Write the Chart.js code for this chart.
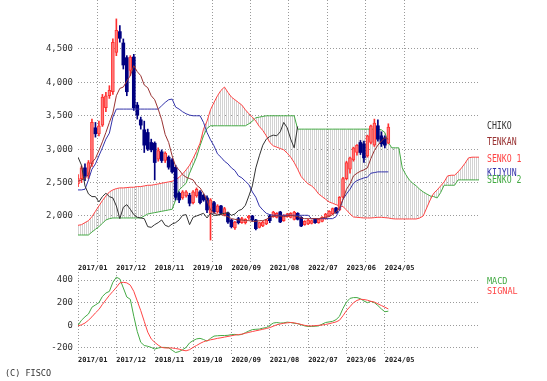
<!DOCTYPE html>
<html><head><meta charset="utf-8">
<script src="https://cdn.jsdelivr.net/npm/chart.js@4.4.1/dist/chart.umd.min.js"></script>
<style>
html,body{margin:0;padding:0;background:#fff;}
#wrap{position:relative;width:547px;height:381px;overflow:hidden;background:#fff;}
#c1{position:absolute;left:0;top:0;}
#c2{position:absolute;left:0;top:270px;}
.lbl{position:absolute;font-family:'DejaVu Sans Mono',monospace;white-space:nowrap;transform-origin:0 0;}
.big{font-size:10px;line-height:10px;transform:scaleX(0.82);}
.small{font-size:8.5px;line-height:8.5px;}
</style></head>
<body><div id="wrap">
<canvas id="c1" width="547" height="280"></canvas>
<canvas id="c2" width="547" height="100"></canvas>
<div class="lbl big" style="left:487px;top:120.7px;color:#333">CHIKO</div>
<div class="lbl big" style="left:487px;top:136.9px;color:#993333">TENKAN</div>
<div class="lbl big" style="left:487px;top:153.7px;color:#ff4444">SENKO 1</div>
<div class="lbl big" style="left:487px;top:168.2px;color:#3333aa">KIJYUN</div>
<div class="lbl big" style="left:487px;top:175.2px;color:#44aa44">SENKO 2</div>
<div class="lbl small" style="left:487px;top:276.9px;color:#44aa44">MACD</div>
<div class="lbl small" style="left:487px;top:286.9px;color:#ff4444">SIGNAL</div>
<div class="lbl small" style="left:5px;top:368.9px;color:#333">(C) FISCO</div>
</div>
<script>
// ---- data (monthly, index 0 = 2017/01) ----
const xTickPos = [0,11,22,33,44,55,66,77,88];
const xTickLabels = ['2017/01','2017/12','2018/11','2019/10','2020/09','2021/08','2022/07','2023/06','2024/05'];
const priceTicks = [2000,2500,3000,3500,4000,4500];
const macdTicks = [-200,0,200,400];
const X_MAX = 115;

const open = [2480,2560,2720,2600,2780,3320,3230,3360,3620,3800,
 3860,4450,4760,4590,4370,4180,4380,3660,3440,3290,
 3250,3100,3090,2850,2960,2830,2880,2840,2730,2340,
 2270,2300,2310,2200,2300,2360,2310,2270,2040,2200,
 2060,2150,2020,2045,1940,1820,1960,1900,1900,1970,
 2000,1940,1830,1850,1880,2000,1990,1980,2060,1930,
 1990,1980,1950,2040,1980,1870,1880,1890,1950,1900,
 1920,1960,2000,2030,2120,2090,2280,2560,2700,2840,
 2950,3100,3080,2900,3100,3060,3350,3200,3170,3090];
const high = [2620,2750,2780,2830,3450,3400,3420,3820,3850,3950,
 4650,4950,4850,4650,4400,4400,4420,3700,3480,3420,
 3300,3150,3110,3020,2990,2960,2900,2860,2760,2360,
 2380,2380,2340,2380,2420,2380,2330,2300,2260,2220,
 2170,2160,2130,2060,1950,1920,1980,1980,1960,2010,
 2010,1950,1910,1920,1950,2020,2070,2050,2070,2020,
 2040,2050,2070,2050,1990,1930,1950,1940,1960,1960,
 1990,2040,2080,2120,2130,2290,2580,2820,2880,3030,
 3070,3130,3120,3210,3360,3450,3440,3260,3200,3380];
const low = [2440,2500,2530,2560,2740,3180,3200,3340,3560,3760,
 3820,4400,4600,4200,3800,4100,3580,3450,3300,2950,
 2980,2960,2540,2820,2800,2800,2700,2640,2240,2200,
 2250,2280,2150,2180,2280,2180,2220,2050,1640,2040,
 2040,2020,2000,1890,1820,1800,1880,1890,1880,1950,
 1920,1790,1820,1840,1870,1900,1980,1970,1900,1920,
 1980,1970,1940,1940,1840,1860,1870,1880,1890,1890,
 1910,1950,1990,2020,2040,2080,2270,2540,2640,2820,
 2910,2920,2800,2880,3080,3040,3120,3040,3020,3080];
const close = [2560,2720,2600,2800,3400,3230,3350,3780,3800,3880,
 4600,4780,4660,4260,3860,4380,3620,3510,3360,3060,
 3000,2990,2800,2980,2830,2940,2730,2660,2280,2240,
 2360,2360,2190,2360,2400,2200,2240,2090,2240,2060,
 2150,2040,2110,1910,1840,1910,1900,1960,1950,2000,
 1940,1810,1900,1910,1940,1930,2060,2040,1910,2010,
 2030,2040,2060,1950,1850,1920,1940,1930,1900,1950,
 1980,2030,2070,2110,2050,2280,2560,2800,2870,3020,
 3060,2950,2870,3200,3350,3390,3150,3080,3060,3330];

const tenkan = [2520,2540,2560,2620,2800,2860,2980,3110,3250,3400,
 3540,3800,3910,3930,4020,4100,4250,4160,4100,3960,
 3920,3800,3740,3600,3440,3220,3100,2900,2740,2690,
 2620,2580,2560,2540,2460,2420,2340,2230,2090,2045,
 2020,2020,2010,1990,1960,1950,1940,1940,1930,1930,
 1920,1920,1930,1930,1950,1980,2000,2000,2000,1990,
 2000,2010,2000,1990,1970,1960,1960,1960,1960,1960,
 1970,1980,1990,2020,2060,2120,2250,2400,2480,2600,
 2640,2670,2690,2720,2860,2980,3060,3120,3170,3150];
const kijun = [2390,2390,2400,2540,2700,2780,2900,3020,3150,3240,
 3480,3600,3600,3600,3600,3600,3600,3600,3600,3600,
 3600,3600,3600,3600,3650,3700,3740,3750,3630,3600,
 3560,3530,3510,3500,3500,3500,3400,3250,3140,3050,
 2930,2880,2820,2780,2720,2680,2600,2570,2520,2470,
 2360,2280,2150,2090,2040,2020,2010,2010,2010,2010,
 2010,2010,2010,2010,2010,2010,2010,1960,1960,1960,
 1960,1960,1960,1960,1990,2090,2250,2330,2400,2490,
 2530,2550,2570,2580,2640,2650,2660,2660,2660,2660];
const senko1 = [1860,1870,1900,1930,1990,2070,2150,2230,2300,2360,
 2390,2410,2420,2420,2425,2430,2430,2440,2440,2450,
 2460,2460,2470,2480,2490,2500,2510,2520,2540,2580,
 2630,2690,2760,2860,2970,3090,3300,3420,3590,3700,
 3800,3880,3930,3850,3780,3740,3700,3660,3590,3530,
 3480,3420,3340,3280,3200,3100,3050,3030,3010,2990,
 2940,2880,2800,2700,2590,2530,2480,2450,2400,2330,
 2290,2250,2210,2190,2170,2150,2140,2090,2030,1985,
 1980,1975,1970,1970,1970,1975,1980,1980,1975,1970,
 1960,1955,1955,1955,1955,1955,1955,1955,1970,2000,
 2120,2240,2340,2390,2450,2510,2600,2610,2610,2660,
 2720,2790,2870,2880,2880,2880];
const senko2 = [1715,1715,1715,1715,1760,1800,1840,1890,1940,1960,
 1970,1970,1970,1970,1970,1970,1970,1970,1970,2000,
 2030,2040,2050,2060,2070,2080,2090,2100,2240,2390,
 2440,2490,2640,2760,2880,3050,3200,3310,3350,3350,
 3350,3350,3350,3350,3350,3350,3350,3350,3350,3380,
 3420,3470,3480,3490,3500,3500,3500,3500,3500,3500,
 3500,3500,3500,3300,3300,3300,3300,3300,3300,3300,
 3300,3300,3300,3300,3300,3300,3300,3300,3300,3300,
 3300,3300,3300,3300,3300,3300,3300,3290,3250,3100,
 3020,3020,3020,2720,2620,2540,2490,2450,2400,2360,
 2330,2300,2290,2270,2350,2460,2460,2460,2460,2540,
 2540,2540,2540,2540,2540,2540];
const chiko = [2880,2760,2450,2330,2290,2290,2210,2290,2340,2290,
 2270,2150,1960,2130,2170,2100,2020,1980,1970,1960,
 1840,1830,1870,1900,1940,1860,1840,1880,1900,1940,
 2010,2020,1870,1980,2000,2020,2040,1970,2040,2010,
 2010,2030,2040,2050,2010,2030,2080,2100,2160,2300,
 2450,2720,2900,3060,3150,3190,3210,3200,3260,3400,
 3320,3150,3020,3340];
const macd = [0,45,75,100,160,180,200,255,285,300,
 380,425,410,330,250,230,80,-55,-150,-178,
 -185,-195,-210,-200,-195,-195,-198,-220,-240,-232,
 -215,-195,-155,-135,-120,-115,-125,-140,-115,-95,
 -92,-90,-90,-88,-82,-80,-85,-80,-65,-50,
 -38,-35,-33,-25,-20,0,20,25,20,22,
 28,25,18,15,5,-5,-10,-10,-8,-5,
 10,25,30,35,50,80,150,205,238,245,
 245,235,215,200,212,200,175,145,120,125];
const signal = [-5,5,20,45,75,110,140,185,225,265,
 300,335,375,380,375,355,300,215,130,35,
 -60,-120,-150,-175,-195,-200,-200,-200,-205,-210,
 -220,-225,-215,-195,-178,-160,-145,-135,-128,-122,
 -115,-110,-104,-98,-92,-86,-82,-78,-70,-62,
 -55,-48,-42,-35,-28,-20,-8,5,12,18,
 22,25,22,15,8,0,-5,-5,-3,0,
 3,8,14,22,30,45,85,130,165,200,
 220,230,228,222,212,205,190,175,160,145];

// ---- drawing ----
const pts = arr => arr.map((v, i) => ({x: i, y: v}));
const GRID = '#9a9a9a';
const UP_FILL = '#ff7a7a', UP_EDGE = '#ff3030', DOWN = '#000080';
const isUp = i => close[i] >= open[i];

const c1 = document.getElementById('c1');
const pc = document.createElement('canvas'); pc.width = 2; pc.height = 2;
const pctx = pc.getContext('2d'); pctx.fillStyle = '#d2d2d2'; pctx.fillRect(0, 0, 1, 2);
const hatch = c1.getContext('2d').createPattern(pc, 'repeat');

function xAxis(h, pad) {
  return {
    type: 'linear', min: 0, max: X_MAX, offset: false,
    afterBuildTicks: s => { s.ticks = xTickPos.map(v => ({value: v})); },
    afterFit: s => { s.height = h; s.paddingLeft = 0; s.paddingRight = 0; },
    ticks: {autoSkip: false, maxRotation: 0, minRotation: 0, align: 'start', padding: pad,
      color: '#222', font: {family: 'DejaVu Sans Mono', size: 7, weight: 'bold'},
      callback: v => xTickLabels[xTickPos.indexOf(v)]},
    grid: {color: GRID, lineWidth: 1, drawTicks: false},
    border: {display: false, dash: [1, 2]}
  };
}
function yAxis(min, max, ticks, fmt) {
  return {
    type: 'linear', min: min, max: max,
    afterBuildTicks: s => { s.ticks = ticks.map(v => ({value: v})); },
    afterFit: s => { s.width = 78; s.paddingTop = 0; s.paddingBottom = 0; },
    ticks: {padding: 5, color: '#333', font: {family: 'DejaVu Sans Mono', size: 9}, callback: fmt},
    grid: {color: GRID, lineWidth: 1, drawTicks: false},
    border: {display: false, dash: [1, 2]}
  };
}
const lineDs = (data, color, order, extra) => Object.assign({
  type: 'line', data: pts(data), borderColor: color, borderWidth: 1,
  pointRadius: 0, tension: 0, fill: false, order: order
}, extra || {});

new Chart(c1, {
  type: 'line',
  data: {datasets: [
    lineDs(senko1, '#ff4444', 10, {fill: {target: '+1', above: hatch, below: hatch}, backgroundColor: hatch}),
    lineDs(senko2, '#44aa44', 11),
    {type: 'bar', data: low.map((l, i) => ({x: i, y: [l, high[i]]})),
      backgroundColor: c => isUp(c.dataIndex) ? UP_EDGE : DOWN,
      barThickness: 1, grouped: false, order: 6},
    {type: 'bar', data: open.map((o, i) => ({x: i, y: [o, close[i]]})),
      backgroundColor: c => isUp(c.dataIndex) ? UP_FILL : DOWN,
      borderColor: c => isUp(c.dataIndex) ? UP_EDGE : DOWN,
      borderWidth: c => isUp(c.dataIndex) ? 1 : 0,
      borderSkipped: false, barThickness: 3, grouped: false, order: 5},
    lineDs(kijun, '#3333aa', 3),
    lineDs(tenkan, '#993333', 2),
    lineDs(chiko, '#333333', 1)
  ]},
  options: {
    responsive: false, animation: false, events: [],
    layout: {padding: {left: 0, right: 68, top: 0, bottom: 0}},
    plugins: {legend: {display: false}, tooltip: {enabled: false}, filler: {drawTime: 'beforeDatasetsDraw'}},
    scales: {
      x: xAxis(18, 2),
      y: yAxis(1311, 5233, priceTicks, v => v.toLocaleString('en-US'))
    }
  }
});

new Chart(document.getElementById('c2'), {
  type: 'line',
  data: {datasets: [
    lineDs(macd, '#44aa44', 2),
    lineDs(signal, '#ff4444', 1)
  ]},
  options: {
    responsive: false, animation: false, events: [],
    layout: {padding: {left: 0, right: 68, top: 2, bottom: 0}},
    plugins: {legend: {display: false}, tooltip: {enabled: false}},
    scales: {
      x: xAxis(15, 1),
      y: yAxis(-262, 471, macdTicks, v => String(v))
    }
  }
});
</script>
</body></html>
